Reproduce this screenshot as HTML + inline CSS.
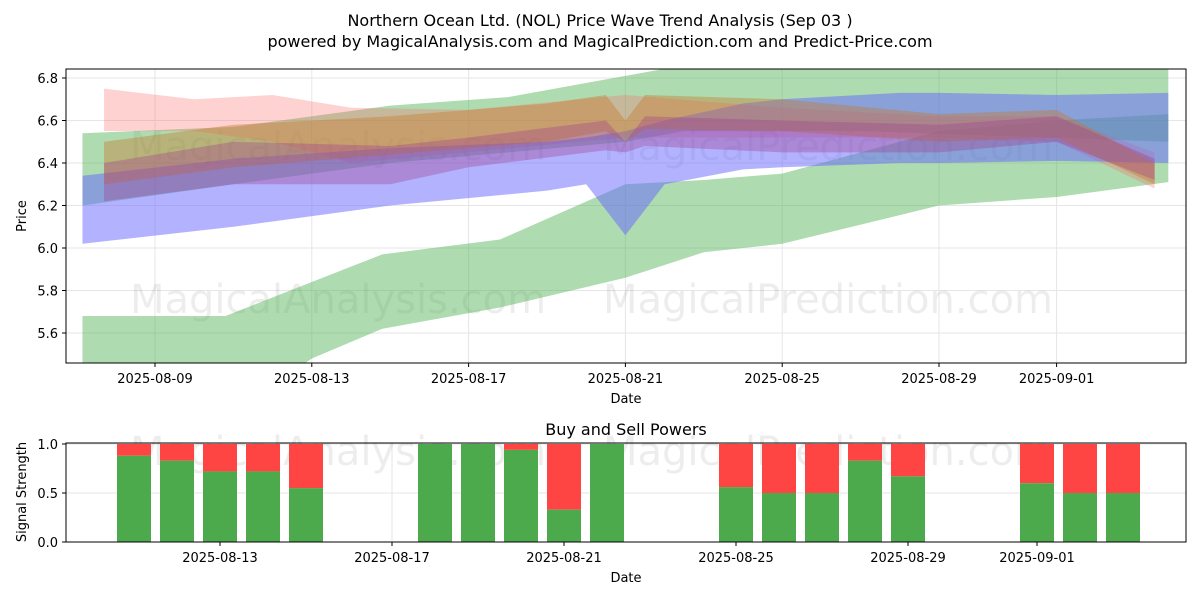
<!DOCTYPE html>
<html><head><meta charset="utf-8"><style>
body{margin:0;background:#fff;font-family:"Liberation Sans",sans-serif}
svg text{font-family:"DejaVu Sans","Liberation Sans",sans-serif}
</style></head><body>
<svg id="c" width="1200" height="600" xmlns="http://www.w3.org/2000/svg">
<text x="600" y="26" font-size="16" text-anchor="middle">Northern Ocean Ltd. (NOL) Price Wave Trend Analysis (Sep 03 )</text>
<text x="600" y="47" font-size="16" text-anchor="middle">powered by MagicalAnalysis.com and MagicalPrediction.com and Predict-Price.com</text>
<defs><clipPath id="cp1"><rect x="66" y="69" width="1120" height="294"/></clipPath></defs>
<g id="topg"></g>
<g id="botg"></g>
</svg>
<script>
const NS="http://www.w3.org/2000/svg";
// ---- price chart data (day 0 = 2025-08-07) ----
const yTicks=[5.6,5.8,6.0,6.2,6.4,6.6,6.8];
const xTickDays=[2,6,10,14,18,22,25];
const xTickLabels=["2025-08-09","2025-08-13","2025-08-17","2025-08-21","2025-08-25","2025-08-29","2025-09-01"];
const lowGreenDays=[0.15,3.8,6,7.8,10.8,14,16,18,22,25,27.85];
const lowGreenUp=[5.68,5.68,5.84,5.97,6.04,6.30,6.32,6.35,6.55,6.6,6.63];
const lowGreenLo=[5.2,5.2,5.48,5.62,5.72,5.86,5.98,6.02,6.2,6.24,6.31];
const hiGreenDays=[0.15,4,8,11,14,15.5,20,27.85];
const hiGreenUp=[6.54,6.57,6.67,6.71,6.81,6.86,6.9,6.9];
const hiGreenLo=[6.2,6.3,6.4,6.45,6.5,6.55,6.55,6.5];
const blueDays=[0.15,4,8,12,13,14,15,17,18,21,22,25,27.85];
const blueUp=[6.34,6.42,6.47,6.5,6.52,6.55,6.6,6.68,6.7,6.73,6.73,6.72,6.73];
const blueLo=[6.02,6.1,6.2,6.27,6.3,6.06,6.3,6.37,6.38,6.4,6.4,6.41,6.4];
const redDays=[0.7,3,5,7,10,14,18,22,25,27.5];
const redUp=[6.75,6.7,6.72,6.66,6.65,6.72,6.66,6.62,6.62,6.45];
const redLo=[6.55,6.55,6.5,6.4,6.45,6.52,6.52,6.52,6.5,6.28];
const orangeDays=[0.7,4,8,12,13.5,14,14.5,18,22,25,27.5];
const orangeUp=[6.5,6.58,6.62,6.68,6.72,6.6,6.72,6.7,6.63,6.65,6.4];
const orangeLo=[6.3,6.38,6.44,6.5,6.55,6.5,6.56,6.55,6.5,6.52,6.3];
const purpleDays=[0.7,4,8,10,13.5,14,14.5,18,22,25,27.5];
const purpleUp=[6.4,6.5,6.48,6.52,6.6,6.5,6.62,6.6,6.58,6.62,6.42];
const purpleLo=[6.22,6.3,6.3,6.38,6.46,6.45,6.48,6.45,6.45,6.5,6.32];
// ---- power chart data (day 0 = 2025-08-07) ----
const barDays=[4,5,6,7,8,11,12,13,14,15,18,19,20,21,22,25,26,27];
const buyPower=[0.88,0.83,0.72,0.72,0.55,1.0,1.0,0.94,0.33,1.0,0.56,0.5,0.5,0.83,0.67,0.6,0.5,0.5];
const pTicks=[0.0,0.5,1.0];
const bTickDays=[6,10,14,18,22,25];

const xT=d=>76.6+d*39.2, yT=v=>333-(v-5.6)*212.5;
const xB=d=>134+(d-4)*43, yB=v=>542-v*98;
const topG=document.getElementById('topg'), botG=document.getElementById('botg');
function mk(p,tag,a,txt){const e=document.createElementNS(NS,tag);for(const k in a)e.setAttribute(k,a[k]);if(txt!=null)e.textContent=txt;p.appendChild(e);return e;}
const gT=mk(topG,'g',{});
yTicks.forEach(v=>{const y=yT(v);mk(gT,'line',{x1:66,x2:1186,y1:y,y2:y,stroke:'#e6e6e6'});mk(gT,'line',{x1:62,x2:66,y1:y,y2:y,stroke:'#000'});
const t=mk(gT,'text',{x:58,y:y+5,'font-size':13,'text-anchor':'end'},v.toFixed(1));

});
xTickDays.forEach((d,i)=>{const x=xT(d);mk(gT,'line',{x1:x,x2:x,y1:69,y2:363,stroke:'#e6e6e6'});mk(gT,'line',{x1:x,x2:x,y1:363,y2:367,stroke:'#000'});
const t=mk(gT,'text',{x:x,y:383,'font-size':13,'text-anchor':'middle'},xTickLabels[i]);

});
const wm=mk(topG,'g',{fill:'#000','fill-opacity':0.07,'font-size':40});
mk(wm,'text',{x:130,y:160},'MagicalAnalysis.com');mk(wm,'text',{x:603,y:160},'MagicalPrediction.com');
mk(wm,'text',{x:130,y:313},'MagicalAnalysis.com');mk(wm,'text',{x:603,y:313},'MagicalPrediction.com');
const gB=mk(topG,'g',{'clip-path':'url(#cp1)'});
function band(days,up,lo,color,op,name){let pts=days.map((d,i)=>xT(d)+','+yT(up[i]));
for(let i=days.length-1;i>=0;i--)pts.push(xT(days[i])+','+yT(lo[i]));
const p=mk(gB,'polygon',{points:pts.join(' '),fill:color,'fill-opacity':op,'stroke-linejoin':'round'});

}
band(lowGreenDays,lowGreenUp,lowGreenLo,'#4caf50',0.45,'green-band-low');
band(hiGreenDays,hiGreenUp,hiGreenLo,'#4caf50',0.45,'green-band-high');
band(redDays,redUp,redLo,'#ff6b6b',0.3,'red-band');
band(blueDays,blueUp,blueLo,'#6666ff',0.5,'blue-band');
band(orangeDays,orangeUp,orangeLo,'#c8782a',0.4,'orange-band');
band(purpleDays,purpleUp,purpleLo,'#a03c8c',0.35,'purple-band');
mk(topG,'rect',{x:66,y:69,width:1120,height:294,fill:'none',stroke:'#000'});
mk(topG,'text',{x:626,y:403,'font-size':13,'text-anchor':'middle'},'Date');
mk(topG,'text',{x:26,y:216,'font-size':13,'text-anchor':'middle',transform:'rotate(-90 26 216)'},'Price');
mk(botG,'text',{x:626,y:435,'font-size':16,'text-anchor':'middle'},'Buy and Sell Powers');
pTicks.forEach(v=>{const y=yB(v);mk(botG,'line',{x1:66,x2:1186,y1:y,y2:y,stroke:'#e6e6e6'});mk(botG,'line',{x1:62,x2:66,y1:y,y2:y,stroke:'#000'});
const t=mk(botG,'text',{x:58,y:y+5,'font-size':13,'text-anchor':'end'},v.toFixed(1));

});
bTickDays.forEach((d,i)=>{const x=xB(d);mk(botG,'line',{x1:x,x2:x,y1:443,y2:542,stroke:'#e6e6e6'});mk(botG,'line',{x1:x,x2:x,y1:542,y2:546,stroke:'#000'});
const t=mk(botG,'text',{x:x,y:562,'font-size':13,'text-anchor':'middle'},xTickLabels[i+1]);

});
const wm2=mk(botG,'g',{fill:'#000','fill-opacity':0.07,'font-size':40});
mk(wm2,'text',{x:130,y:465},'MagicalAnalysis.com');mk(wm2,'text',{x:603,y:465},'MagicalPrediction.com');
barDays.forEach((d,i)=>{const x=xB(d)-17,b=buyPower[i];
const s=mk(botG,'rect',{x:x,y:yB(1),width:34,height:yB(b)-yB(1),fill:'#ff4444'});


const g=mk(botG,'rect',{x:x,y:yB(b),width:34,height:yB(0)-yB(b),fill:'#4caa4c'});

});
mk(botG,'rect',{x:66,y:443,width:1120,height:99,fill:'none',stroke:'#000'});
mk(botG,'text',{x:626,y:582,'font-size':13,'text-anchor':'middle'},'Date');
mk(botG,'text',{x:26,y:492,'font-size':13,'text-anchor':'middle',transform:'rotate(-90 26 492)'},'Signal Strength');
</script>
</body></html>
